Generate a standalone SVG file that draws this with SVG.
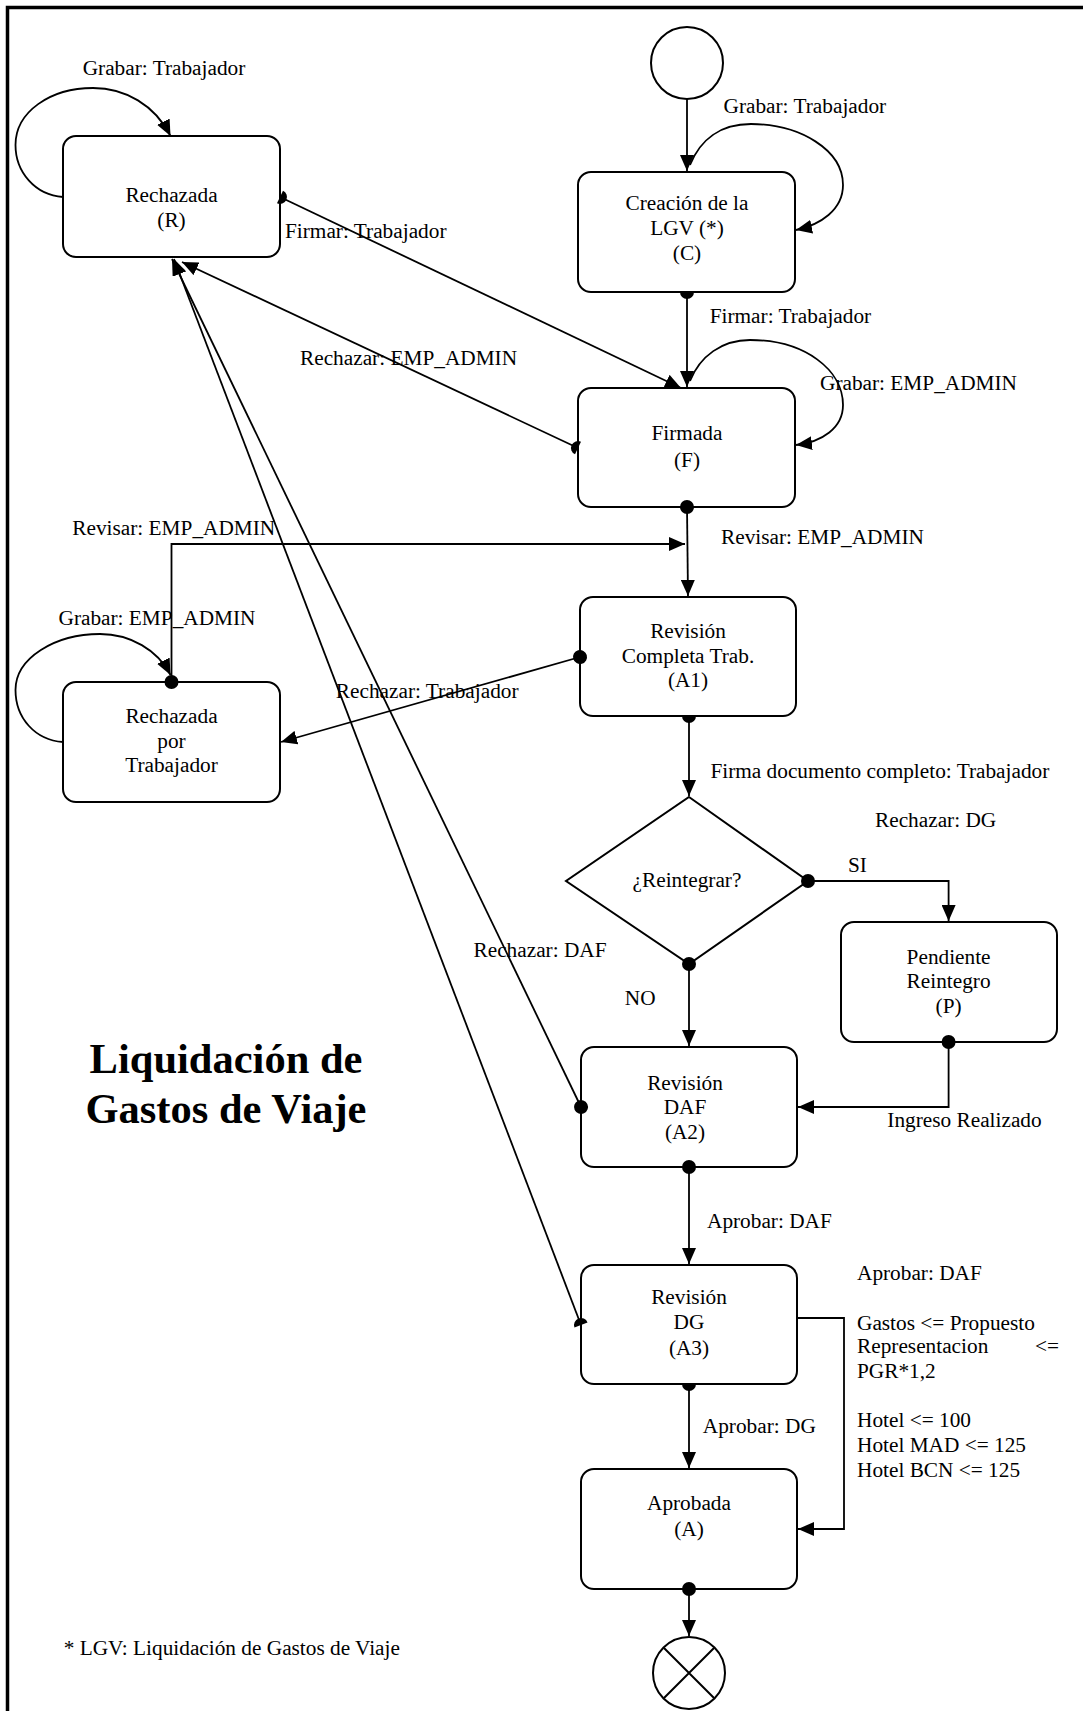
<svg xmlns="http://www.w3.org/2000/svg" width="1083" height="1711" viewBox="0 0 1083 1711">
<style>
text{font-family:"Liberation Serif","Times New Roman",serif;font-size:21.3px;fill:#000}
.c{text-anchor:middle}
.title{font-weight:bold;font-size:42.5px;text-anchor:middle}
.box{fill:#fff;stroke:#000;stroke-width:2}
.ln{fill:none;stroke:#000;stroke-width:1.8}
.arr{marker-end:url(#arrow)}
.dot{marker-start:url(#dot)}
.half{marker-start:url(#half)}
</style>
<defs>
<marker id="arrow" markerUnits="userSpaceOnUse" viewBox="0 0 16 14" markerWidth="16" markerHeight="14" refX="16" refY="7" orient="auto">
<path d="M0,0 L16,7 L0,14 Z" fill="#000"/>
</marker>
<marker id="dot" markerUnits="userSpaceOnUse" viewBox="-8 -8 16 16" markerWidth="16" markerHeight="16" refX="0" refY="0" orient="auto">
<circle cx="0" cy="0" r="7" fill="#000"/>
</marker>
<marker id="half" markerUnits="userSpaceOnUse" viewBox="-8 -8 16 16" markerWidth="16" markerHeight="16" refX="0" refY="0" orient="auto">
<path d="M0,-7 A7,7 0 0 1 0,7 Z" fill="#000"/>
</marker>
</defs>
<rect x="0" y="0" width="1083" height="1711" fill="#fff"/>
<rect id="frame" x="7.5" y="7.5" width="1200" height="1800" fill="none" stroke="#000" stroke-width="3.5"/>

<g id="nodes">
<g id="start"><circle cx="687" cy="63" r="36" fill="#fff" stroke="#000" stroke-width="2"/></g>
<g id="R"><rect class="box" x="63" y="136" width="217" height="121" rx="13"/>
<text class="c" x="171.5" y="201.7">Rechazada</text><text class="c" x="171.5" y="226.7">(R)</text></g>
<g id="C"><rect class="box" x="578" y="172" width="217" height="120" rx="13"/>
<text class="c" x="687" y="210">Creación de la</text><text class="c" x="687" y="235">LGV (*)</text><text class="c" x="687" y="260">(C)</text></g>
<g id="F"><rect class="box" x="578" y="388" width="217" height="119" rx="13"/>
<text class="c" x="687" y="440">Firmada</text><text class="c" x="687" y="467">(F)</text></g>
<g id="A1"><rect class="box" x="580" y="597" width="216" height="119" rx="13"/>
<text class="c" x="688" y="638">Revisión</text><text class="c" x="688" y="663">Completa Trab.</text><text class="c" x="688" y="687">(A1)</text></g>
<g id="RpT"><rect class="box" x="63" y="682" width="217" height="120" rx="13"/>
<text class="c" x="171.5" y="723">Rechazada</text><text class="c" x="171.5" y="748">por</text><text class="c" x="171.5" y="772">Trabajador</text></g>
<g id="decision"><polygon points="689,797 808,881 689,964 566,881" fill="#fff" stroke="#000" stroke-width="2"/>
<text class="c" x="687" y="887">¿Reintegrar?</text></g>
<g id="P"><rect class="box" x="841" y="922" width="216" height="120" rx="13"/>
<text class="c" x="948.6" y="964">Pendiente</text><text class="c" x="948.6" y="988">Reintegro</text><text class="c" x="948.6" y="1013">(P)</text></g>
<g id="A2"><rect class="box" x="581" y="1047" width="216" height="120" rx="13"/>
<text class="c" x="685" y="1090">Revisión</text><text class="c" x="685" y="1114">DAF</text><text class="c" x="685" y="1139">(A2)</text></g>
<g id="A3"><rect class="box" x="581" y="1265" width="216" height="119" rx="13"/>
<text class="c" x="689" y="1304">Revisión</text><text class="c" x="689" y="1329">DG</text><text class="c" x="689" y="1355">(A3)</text></g>
<g id="A"><rect class="box" x="581" y="1469" width="216" height="120" rx="13"/>
<text class="c" x="689" y="1510">Aprobada</text><text class="c" x="689" y="1536">(A)</text></g>
<g id="end"><circle cx="689" cy="1673" r="36" fill="#fff" stroke="#000" stroke-width="2"/>
<path d="M664,1648 L714,1698 M714,1648 L664,1698" stroke="#000" stroke-width="2"/></g>
</g>

<g id="connectors">
<path class="ln arr" d="M687,99 L687,171"/>
<path class="ln arr" d="M63,197 C35,195 15.5,172 15.5,145 C15.5,112 50,88 93,88 C125,88 155,105 170.5,136"/>
<path class="ln arr" d="M690,165 C700,140 720,124 751,124 C800,124 843,150 843,185 C843,210 820,225 796,230"/>
<path class="ln arr half" d="M687,292 L687,387"/>
<path class="ln arr" d="M690,381 C700,356 722,340 750,340 C805,340 843,370 843,405 C843,428 822,442 796,445"/>
<path class="ln arr half" d="M280,197 L681,388"/>
<path class="ln arr half" d="M578,448 L182,262"/>
<path class="ln arr dot" d="M687,507 L688,596"/>
<path class="ln arr dot" d="M171.5,682 L171.5,544 L685,544"/>
<path class="ln arr" d="M63,742 C35,740 15.5,718 15.5,690 C15.5,658 55,634 100,634 C130,634 158,650 170.5,675"/>
<path class="ln arr dot" d="M580,657 L281,742"/>
<path class="ln arr half" d="M689,716 L689,796"/>
<path class="ln arr dot" d="M808,881 L948.6,881 L948.6,921"/>
<path class="ln arr dot" d="M689,964 L689,1046"/>
<path class="ln arr dot" d="M948.6,1042 L948.6,1107 L798,1107"/>
<path class="ln arr dot" d="M581,1107 L172,259"/>
<path class="ln arr dot" d="M689,1167 L689,1264"/>
<path class="ln arr half" d="M581,1325 L174,259"/>
<path class="ln arr" d="M797,1318 L844,1318 L844,1529 L798,1529"/>
<path class="ln arr half" d="M689,1384 L689,1468"/>
<path class="ln arr dot" d="M689,1589 L689,1636"/>
</g>

<g id="labels">
<text x="82.7" y="75">Grabar: Trabajador</text>
<text x="285" y="238">Firmar: Trabajador</text>
<text x="300" y="365">Rechazar: EMP_ADMIN</text>
<text x="723.5" y="112.5">Grabar: Trabajador</text>
<text x="709.7" y="323">Firmar: Trabajador</text>
<text x="820" y="390">Grabar: EMP_ADMIN</text>
<text x="72.3" y="535">Revisar: EMP_ADMIN</text>
<text x="721" y="544">Revisar: EMP_ADMIN</text>
<text x="58.5" y="625">Grabar: EMP_ADMIN</text>
<text x="335.8" y="698">Rechazar: Trabajador</text>
<text x="710.4" y="778">Firma documento completo: Trabajador</text>
<text x="875" y="827">Rechazar: DG</text>
<text x="848" y="872">SI</text>
<text x="473.5" y="957">Rechazar: DAF</text>
<text x="624.8" y="1005">NO</text>
<text x="887.3" y="1127">Ingreso Realizado</text>
<text x="707" y="1228">Aprobar: DAF</text>
<text x="857" y="1280">Aprobar: DAF</text>
<text x="857" y="1330">Gastos &lt;= Propuesto</text>
<text x="857" y="1353">Representacion</text>
<text x="1035" y="1353">&lt;=</text>
<text x="857" y="1378">PGR*1,2</text>
<text x="857" y="1427">Hotel &lt;= 100</text>
<text x="857" y="1452">Hotel MAD &lt;= 125</text>
<text x="857" y="1477">Hotel BCN &lt;= 125</text>
<text x="702.8" y="1433">Aprobar: DG</text>
<text x="63.7" y="1655">* LGV: Liquidación de Gastos de Viaje</text>
<text class="title" x="226" y="1073">Liquidación de</text>
<text class="title" x="226" y="1123">Gastos de Viaje</text>
</g>
</svg>
